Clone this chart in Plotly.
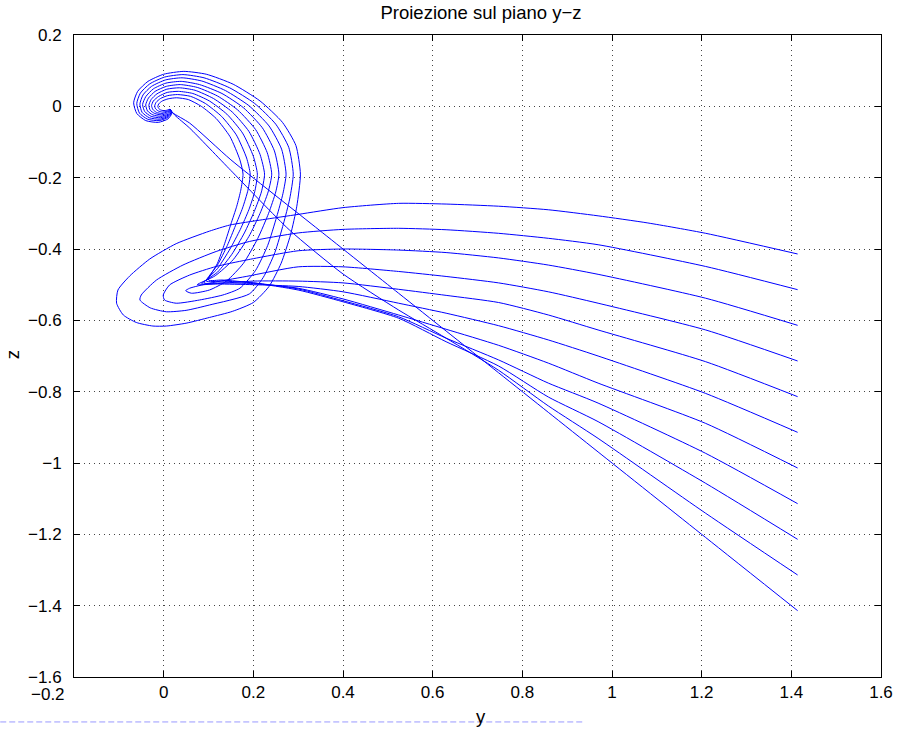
import plotly.graph_objects as go

# y-z coordinates of the 11 trajectories (k = 0 top ... k = 10 bottom)
c0_y = [1.414,1.209,1.08,0.969,0.858,0.747,0.63,0.524,0.40,0.30,0.22,0.147,0.102,0.028,-0.031,-0.076,-0.102,-0.105,-0.090,-0.061,-0.024,0.006,0.050,0.102,0.153,0.20,0.235,0.262,0.283,0.297,
        0.305,0.295,0.265,0.215,0.155,0.095,0.045,0.0,-0.035,-0.058,-0.067,-0.06,-0.04,-0.012,0.01,0.018,0.014]
c0_z = [-0.414,-0.356,-0.327,-0.307,-0.290,-0.280,-0.274,-0.272,-0.284,-0.303,-0.318,-0.333,-0.350,-0.385,-0.428,-0.476,-0.515,-0.552,-0.585,-0.606,-0.616,-0.616,-0.608,-0.592,-0.575,-0.55,-0.505,-0.44,-0.36,-0.28,
        -0.19,-0.11,-0.045,0.015,0.062,0.09,0.098,0.09,0.07,0.042,0.01,-0.02,-0.04,-0.045,-0.035,-0.02,-0.008]

c1_y = [1.414,1.209,0.969,0.858,0.747,0.63,0.524,0.40,0.30,0.191,0.117,0.043,-0.016,-0.05,-0.053,-0.03,0.006,0.05,0.102,0.191,0.222,0.248,0.267,0.281,
        0.289,0.279,0.25,0.203,0.147,0.09,0.043,0.002,-0.031,-0.052,-0.060,-0.054,-0.036,-0.01,0.01,0.018,0.014]
c1_z = [-0.514,-0.449,-0.388,-0.37,-0.356,-0.346,-0.342,-0.345,-0.355,-0.379,-0.407,-0.445,-0.487,-0.529,-0.543,-0.565,-0.576,-0.572,-0.557,-0.526,-0.48,-0.41,-0.33,-0.26,
        -0.19,-0.115,-0.05,0.008,0.052,0.08,0.089,0.082,0.063,0.037,0.008,-0.019,-0.036,-0.04,-0.031,-0.018,-0.008]

c2_y = [1.414,1.209,0.969,0.858,0.747,0.63,0.524,0.40,0.30,0.184,0.117,0.058,0.013,-0.001,0.002,0.028,0.08,0.132,0.17,0.205,0.232,0.252,0.266,
        0.273,0.263,0.235,0.19,0.138,0.085,0.041,0.004,-0.027,-0.046,-0.053,-0.048,-0.032,-0.008,0.01,0.017,0.014]
c2_z = [-0.614,-0.538,-0.471,-0.445,-0.425,-0.41,-0.403,-0.40,-0.405,-0.431,-0.449,-0.473,-0.501,-0.529,-0.543,-0.552,-0.543,-0.529,-0.51,-0.46,-0.39,-0.31,-0.245,
        -0.19,-0.12,-0.055,0.002,0.044,0.071,0.080,0.074,0.056,0.032,0.006,-0.017,-0.032,-0.036,-0.028,-0.016,-0.008]

c3_y = [1.414,1.209,0.969,0.858,0.747,0.63,0.524,0.40,0.30,0.184,0.102,0.058,0.049,0.062,0.102,0.14,0.178,0.21,0.234,0.25,
        0.257,0.247,0.22,0.178,0.13,0.08,0.039,0.005,-0.023,-0.04,-0.047,-0.042,-0.028,-0.007,0.01,0.017,0.014]
c3_z = [-0.714,-0.627,-0.552,-0.52,-0.495,-0.477,-0.463,-0.45,-0.45,-0.477,-0.496,-0.510,-0.517,-0.524,-0.515,-0.49,-0.44,-0.37,-0.30,-0.24,
        -0.19,-0.125,-0.06,-0.004,0.036,0.061,0.070,0.065,0.049,0.027,0.005,-0.015,-0.028,-0.032,-0.025,-0.015,-0.008]

c4_y = [1.414,1.209,0.969,0.858,0.747,0.63,0.524,0.40,0.30,0.20,0.12,0.075,0.115,0.155,0.19,0.215,0.233,
        0.241,0.231,0.205,0.165,0.12,0.075,0.037,0.006,-0.019,-0.034,-0.040,-0.036,-0.024,-0.006,0.01,0.016,0.014]
c4_z = [-0.814,-0.716,-0.627,-0.585,-0.55,-0.53,-0.513,-0.495,-0.49,-0.49,-0.497,-0.50,-0.475,-0.43,-0.365,-0.30,-0.24,
        -0.19,-0.13,-0.065,-0.01,0.029,0.053,0.061,0.056,0.042,0.023,0.004,-0.013,-0.024,-0.028,-0.022,-0.014,-0.008]

c5_y = [1.414,1.209,0.969,0.858,0.747,0.63,0.524,0.40,0.30,0.20,0.12,0.085,0.12,0.152,0.18,0.202,0.218,
        0.225,0.215,0.19,0.153,0.111,0.07,0.035,0.007,-0.015,-0.028,-0.033,-0.030,-0.02,-0.005,0.009,0.015,0.014]
c5_z = [-0.914,-0.805,-0.700,-0.655,-0.615,-0.58,-0.552,-0.52,-0.505,-0.50,-0.498,-0.497,-0.465,-0.415,-0.355,-0.295,-0.24,
        -0.19,-0.135,-0.07,-0.016,0.022,0.045,0.052,0.048,0.035,0.019,0.003,-0.011,-0.02,-0.024,-0.019,-0.013,-0.008]

c6_y = [1.414,1.209,0.969,0.858,0.747,0.63,0.524,0.40,0.30,0.20,0.13,0.09,0.12,0.148,0.171,0.19,0.203,
        0.209,0.2,0.176,0.141,0.102,0.065,0.033,0.008,-0.011,-0.023,-0.027,-0.024,-0.016,-0.004,0.008,0.014,0.014]
c6_z = [-1.014,-0.889,-0.776,-0.72,-0.67,-0.625,-0.585,-0.54,-0.51,-0.497,-0.495,-0.495,-0.455,-0.40,-0.345,-0.29,-0.24,
        -0.19,-0.14,-0.075,-0.022,0.015,0.036,0.042,0.039,0.028,0.015,0.002,-0.009,-0.017,-0.02,-0.016,-0.012,-0.008]

c7_y = [1.414,1.209,0.969,0.858,0.747,0.63,0.524,0.40,0.30,0.20,0.13,0.095,0.12,0.142,0.16,0.176,0.188,
        0.193,0.185,0.162,0.129,0.093,0.06,0.031,0.009,-0.007,-0.017,-0.020,-0.018,-0.012,-0.003,0.007,0.013,0.014]
c7_z = [-1.114,-0.973,-0.832,-0.776,-0.711,-0.65,-0.59,-0.545,-0.512,-0.495,-0.49,-0.49,-0.445,-0.39,-0.335,-0.285,-0.235,
        -0.19,-0.145,-0.08,-0.028,0.008,0.028,0.033,0.030,0.022,0.011,0.001,-0.007,-0.013,-0.016,-0.014,-0.011,-0.008]

c8_y = [1.414,1.209,0.969,0.858,0.747,0.63,0.524,0.40,0.30,0.20,0.13,0.10,0.12,0.136,0.15,0.163,0.172,
        0.177,0.17,0.148,0.117,0.084,0.055,0.029,0.01,-0.003,-0.011,-0.013,-0.011,-0.007,0.0,0.007,0.012,0.014]
c8_z = [-1.214,-1.057,-0.884,-0.815,-0.728,-0.66,-0.594,-0.548,-0.515,-0.495,-0.487,-0.487,-0.44,-0.385,-0.33,-0.28,-0.235,
        -0.19,-0.15,-0.085,-0.034,0.0,0.019,0.024,0.021,0.015,0.007,0.0,-0.006,-0.01,-0.012,-0.011,-0.009,-0.008]

c9_y = [1.414,1.209,0.969,0.858,0.747,0.63,0.524,0.40,0.28,0.15,0.058,0.025,0.014]
c9_z = [-1.314,-1.141,-0.931,-0.84,-0.74,-0.65,-0.571,-0.47,-0.346,-0.18,-0.061,-0.025,-0.008]

c10_y = [1.414,1.209,0.969,0.858,0.747,0.63,0.524,0.347,0.15,0.058,0.02,0.014]
c10_z = [-1.414,-1.209,-0.969,-0.858,-0.747,-0.63,-0.524,-0.347,-0.15,-0.047,-0.018,-0.008]

curves = [(c0_y, c0_z), (c1_y, c1_z), (c2_y, c2_z), (c3_y, c3_z), (c4_y, c4_z), (c5_y, c5_z),
          (c6_y, c6_z), (c7_y, c7_z), (c8_y, c8_z), (c9_y, c9_z), (c10_y, c10_z)]

x_ticks = [-0.2, 0, 0.2, 0.4, 0.6, 0.8, 1, 1.2, 1.4, 1.6]
x_ticktext = ["", "0", "0.2", "0.4", "0.6", "0.8", "1", "1.2", "1.4", "1.6"]
first_x_label = "\u22120.2"
y_ticks = [-1.6, -1.4, -1.2, -1, -0.8, -0.6, -0.4, -0.2, 0, 0.2]

FONT = "Liberation Sans, Arial, Helvetica, sans-serif"

fig = go.Figure()
for cy, cz in curves:
    fig.add_trace(go.Scatter(x=cy, y=cz, mode="lines", line=dict(color="#0000ff", width=1, shape="spline", smoothing=0.6),
                             showlegend=False, hoverinfo="skip"))

axis_common = dict(showline=True, linecolor="black", linewidth=1, mirror="allticks", ticks="inside",
                   ticklen=6, tickcolor="black", showgrid=True, gridcolor="#444444", griddash="1px,4px",
                   gridwidth=1, zeroline=False, tickfont=dict(family=FONT, size=17, color="black"))
fig.update_xaxes(range=[-0.2, 1.6], tickvals=x_ticks, ticktext=x_ticktext, **axis_common)
fig.update_yaxes(range=[-1.6, 0.2], tickvals=y_ticks, ticklabelstandoff=8, **axis_common)

fig.update_layout(
    width=905, height=729, margin=dict(l=74, r=21, t=35, b=52),
    plot_bgcolor="white", paper_bgcolor="white",
    title=dict(text="Proiezione sul piano y\u2212z", x=0.5315, xanchor="center",
               y=1 - 13 / 729, yanchor="middle", yref="container",
               font=dict(family=FONT, size=18.5, color="black")),
    annotations=[
        dict(text=first_x_label, xref="paper", yref="paper", x=(48 - 74) / 810, y=-(694 - 677) / 642,
             xanchor="center", yanchor="middle", showarrow=False, font=dict(family=FONT, size=17, color="black")),
        dict(text="y", xref="paper", yref="paper", x=(483 - 74) / 810, y=-(716 - 677) / 642,
             xanchor="center", yanchor="middle", showarrow=False, font=dict(family=FONT, size=18.5, color="black")),
        dict(text="z", xref="paper", yref="paper", x=(12 - 74) / 810, y=(677 - 355) / 642, textangle=-90,
             xanchor="center", yanchor="middle", showarrow=False, font=dict(family=FONT, size=18.5, color="black")),
    ],
    shapes=[dict(type="line", xref="paper", yref="paper", x0=-0.0914, x1=0.63, y0=-0.070, y1=-0.070,
                 line=dict(color="#9999ff", width=1, dash="6px,3px"))],
)
fig.write_html("out.html")
